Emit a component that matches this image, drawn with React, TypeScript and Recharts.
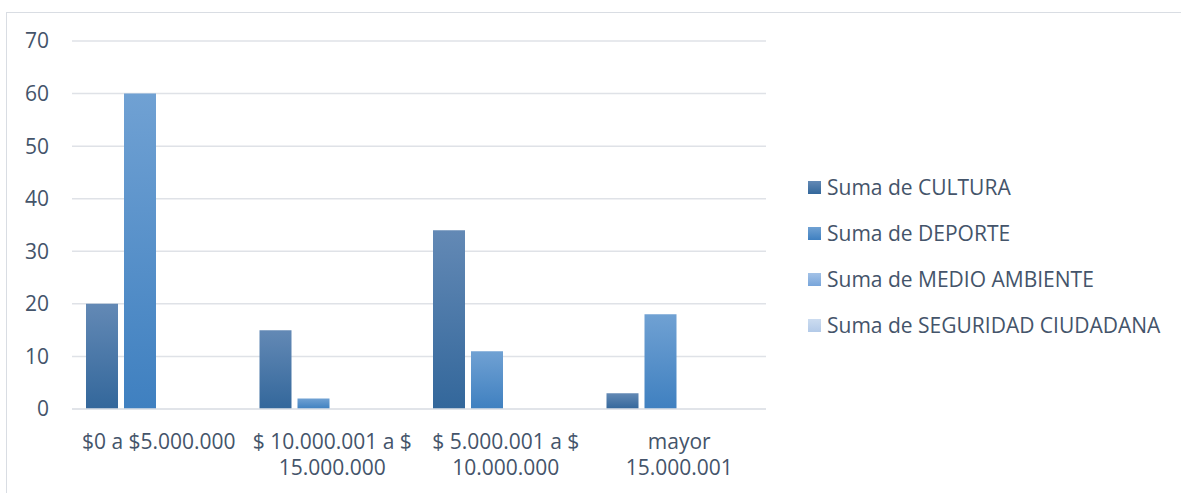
// Grouped bars by budget range, one series per theme, Excel-style gradient fills.

import { BarChart, Bar, XAxis, YAxis, CartesianGrid, Legend } from "recharts";

const categories = [
  "$0 a $5.000.000",
  "$ 10.000.001 a $ 15.000.000",
  "$ 5.000.001 a $ 10.000.000",
  "mayor 15.000.001",
];
// how each category label wraps under the axis
const categoryLines = [
  ["$0 a $5.000.000"],
  ["$ 10.000.001 a $", "15.000.000"],
  ["$ 5.000.001 a $", "10.000.000"],
  ["mayor", "15.000.001"],
];

const cultura = [20, 15, 34, 3];
const deporte = [60, 2, 11, 18];
const medioAmbiente = [0, 0, 0, 0];
const seguridad = [0, 0, 0, 0];

const yTicks = [0, 10, 20, 30, 40, 50, 60, 70];

const series = [
  { key: "cultura", name: "Suma de CULTURA", top: "#6389b5", bottom: "#33679b" },
  { key: "deporte", name: "Suma de DEPORTE", top: "#70a1d3", bottom: "#3f80c0" },
  { key: "medio", name: "Suma de MEDIO AMBIENTE", top: "#a3c2e7", bottom: "#78a5da" },
  { key: "seguridad", name: "Suma de SEGURIDAD CIUDADANA", top: "#ccdcf0", bottom: "#b3cae8" },
];

const data = categories.map((c, i) => ({
  category: c,
  cultura: cultura[i],
  deporte: deporte[i],
  medio: medioAmbiente[i],
  seguridad: seguridad[i],
}));

const FONT = "'Open Sans', Lato, sans-serif";
const TEXT = "#44546a";
const FS = 21;

function CategoryTick(props: any) {
  const { x, y, index } = props;
  const lines = categoryLines[index] || [];
  return (
    <text x={x} y={y} textAnchor="middle" fill={TEXT} fontSize={FS} fontFamily={FONT}>
      {lines.map((l, i) => (
        <tspan key={i} x={x} dy={i === 0 ? 32 : 26}>
          {l}
        </tspan>
      ))}
    </text>
  );
}

function LegendBox() {
  return (
    <div style={{ fontFamily: FONT, fontSize: FS, color: TEXT }}>
      {series.map((s) => (
        <div key={s.key} style={{ display: "flex", alignItems: "center", height: 46 }}>
          <span
            style={{
              width: 13,
              height: 13,
              marginRight: 6,
              background: `linear-gradient(${s.top}, ${s.bottom})`,
            }}
          />
          <span>{s.name}</span>
        </div>
      ))}
    </div>
  );
}

export default function App() {
  return (
    <div
      style={{
        position: "absolute",
        left: 6,
        top: 12,
        width: 1175,
        height: 481,
        borderTop: "1px solid #d9dde3",
        borderLeft: "1px solid #d9dde3",
        background: "#fff",
      }}
    >
      <BarChart
        width={1174}
        height={480}
        data={data}
        margin={{ top: 28, right: 415, bottom: 14, left: 0 }}
        barSize={32}
        barGap={6}
      >
        <defs>
          {series.map((s) => (
            <linearGradient key={s.key} id={`g-${s.key}`} x1="0" y1="0" x2="0" y2="1">
              <stop offset="0%" stopColor={s.top} />
              <stop offset="100%" stopColor={s.bottom} />
            </linearGradient>
          ))}
        </defs>
        <CartesianGrid vertical={false} stroke="#dfe2e7" strokeWidth={1.5} />
        <XAxis
          dataKey="category"
          height={70}
          interval={0}
          tickLine={false}
          axisLine={{ stroke: "#dfe2e7", strokeWidth: 1.5 }}
          tick={<CategoryTick />}
        />
        <YAxis
          width={65}
          domain={[0, 70]}
          ticks={yTicks}
          tickLine={false}
          axisLine={false}
          tickSize={0}
          tickMargin={23}
          tick={{ fill: TEXT, fontSize: FS, fontFamily: FONT }}
        />
        <Legend
          layout="vertical"
          align="center"
          verticalAlign="middle"
          content={<LegendBox />}
          wrapperStyle={{ left: 801, top: 151, width: 370 }}
        />
        {series.map((s) => (
          <Bar
            key={s.key}
            dataKey={s.key}
            name={s.name}
            fill={`url(#g-${s.key})`}
            isAnimationActive={false}
          />
        ))}
      </BarChart>
    </div>
  );
}
